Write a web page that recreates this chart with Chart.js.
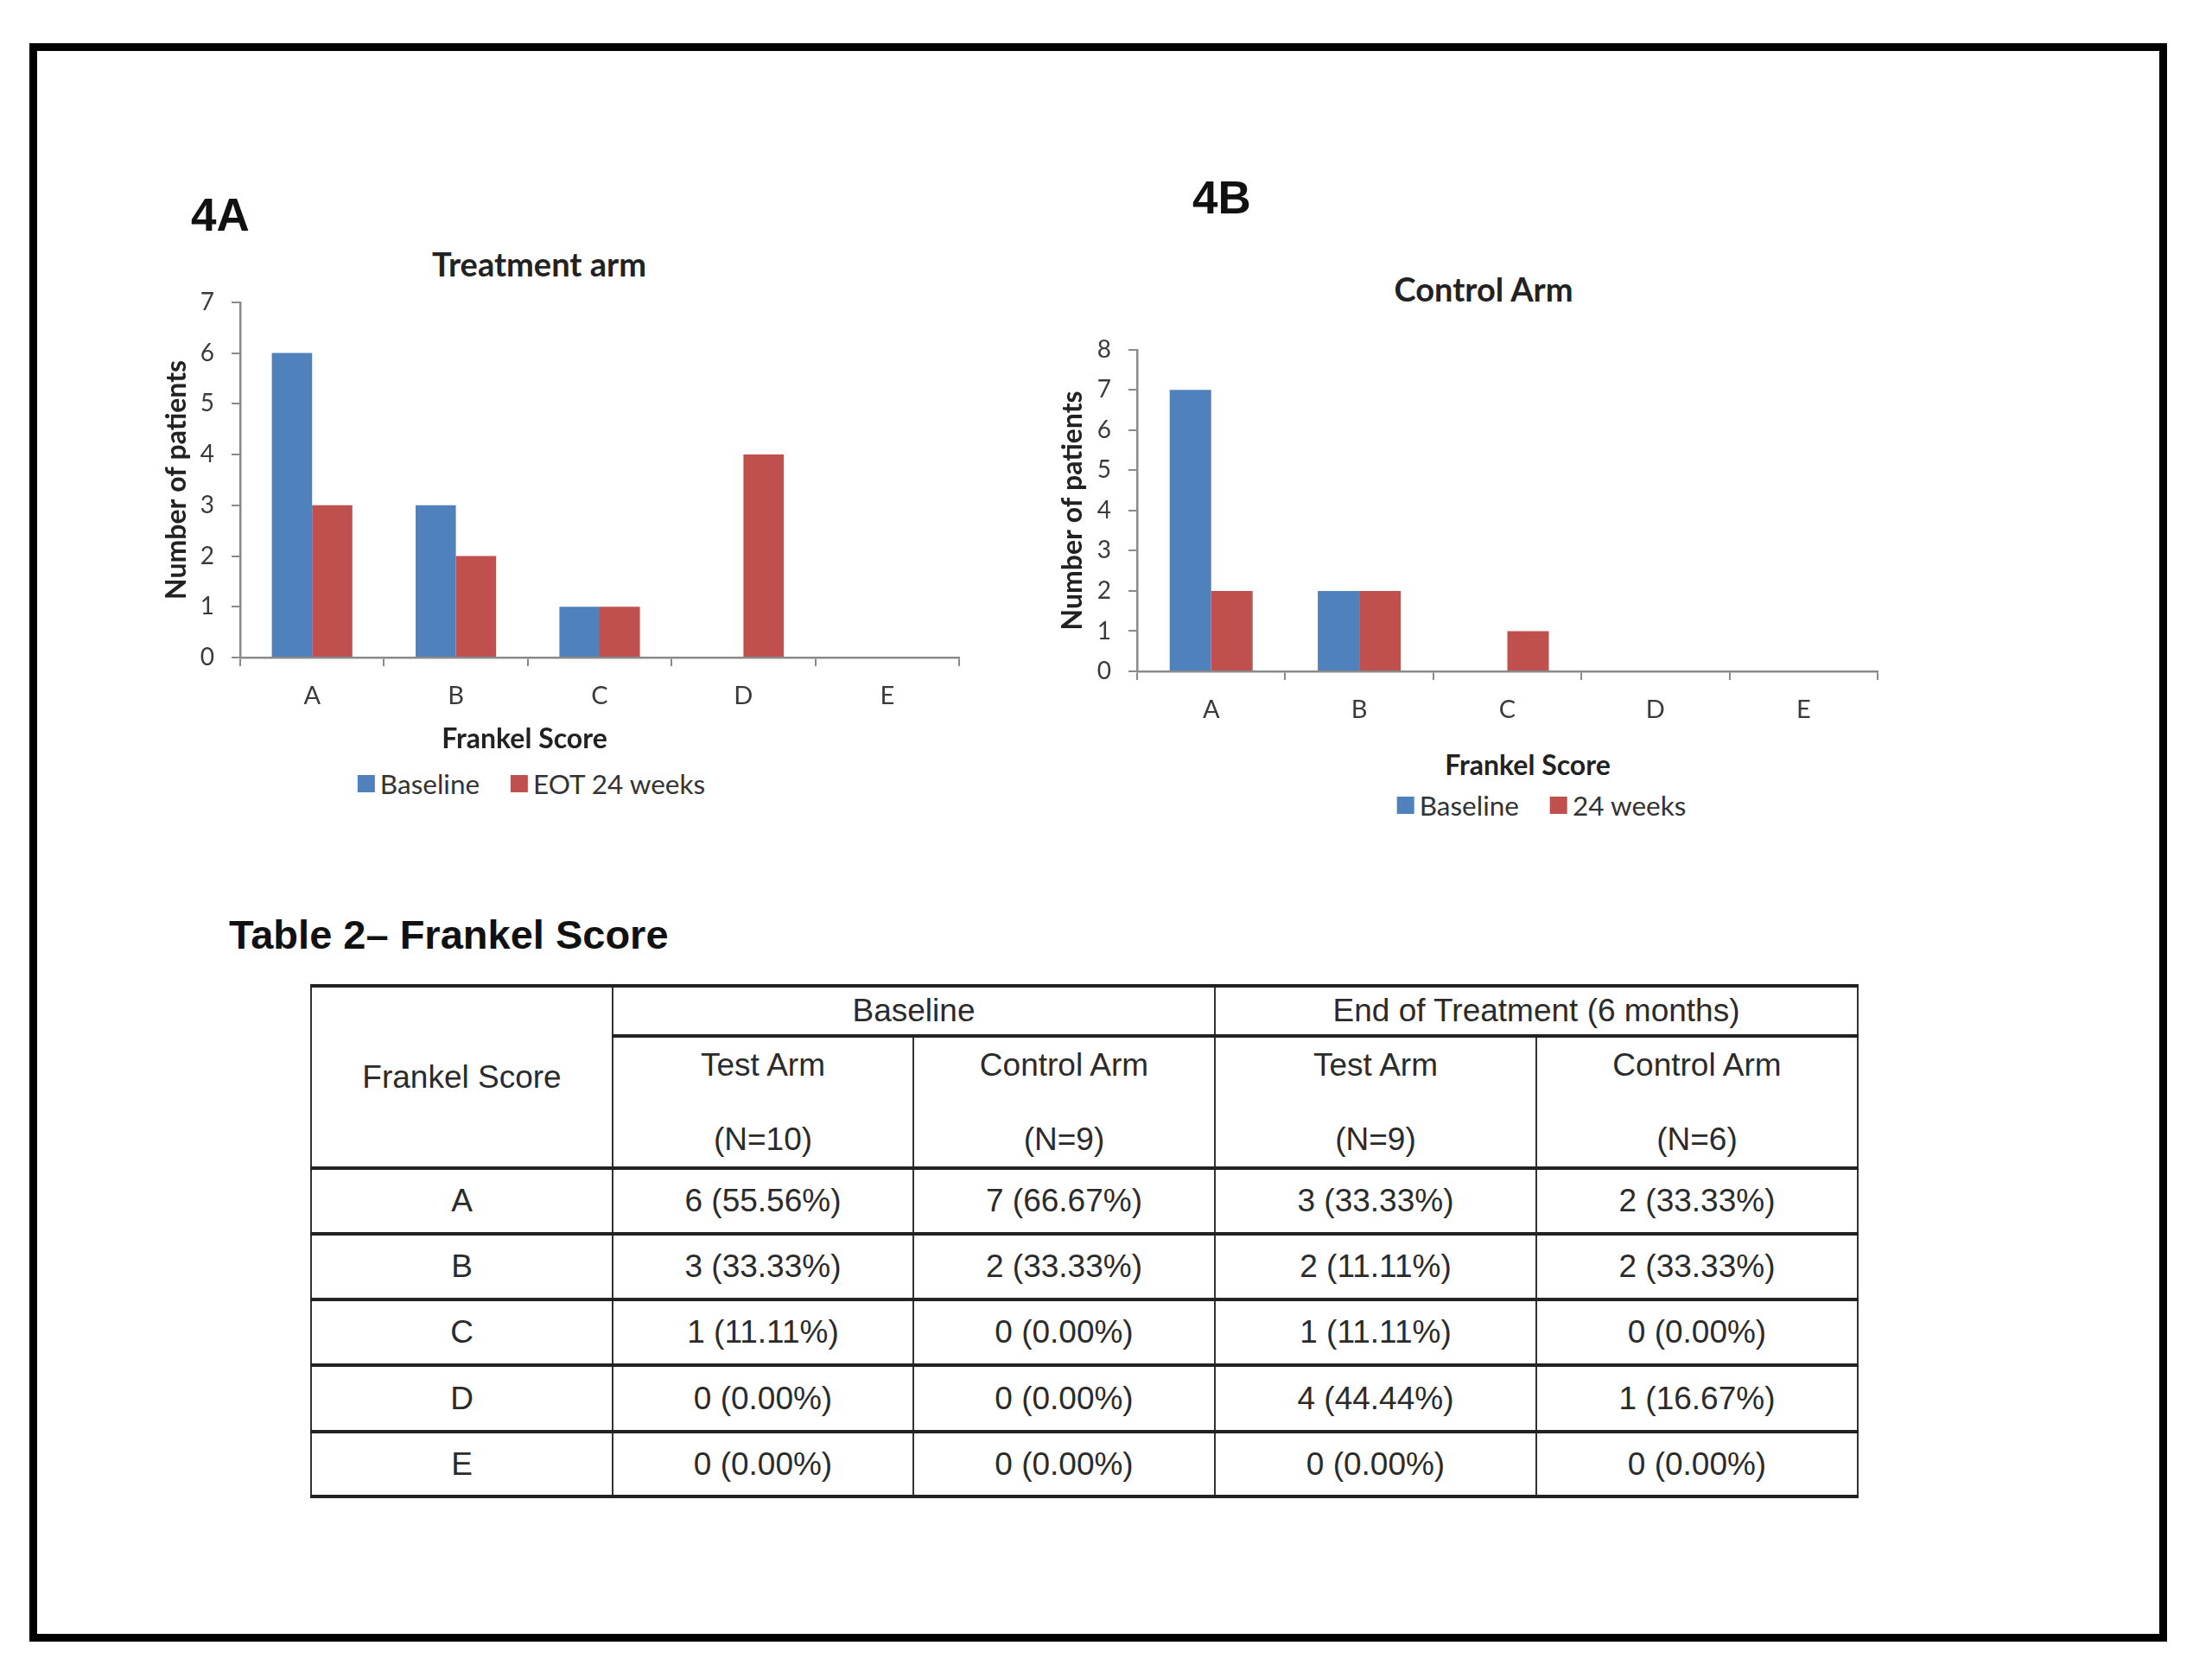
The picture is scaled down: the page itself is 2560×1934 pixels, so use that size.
<!DOCTYPE html>
<html>
<head>
<meta charset="utf-8">
<script src="https://cdn.jsdelivr.net/npm/chart.js@4.4.1/dist/chart.umd.min.js"></script>
<style>
    body { margin: 0; width: 2560px; height: 1934px; background: #fff; position: relative; overflow: hidden; font-family: 'Lato', sans-serif; }
    .frame { position: absolute; left: 34px; top: 50px; width: 2474px; height: 1850px; border: 9px solid #000; box-sizing: border-box; }
    .panel-label { position: absolute; font: bold 53px 'Liberation Sans', Arial, sans-serif; color: #111; transform: translateY(-50%); }
    .chart-box { position: absolute; }
    .txt { position: absolute; transform: translate(-50%, -50%); white-space: nowrap; color: #222; }
    .chart-title { font: bold 38px 'Lato', sans-serif; }
    .axis-title { font: bold 32px 'Lato', sans-serif; }
    .legend { position: absolute; display: flex; align-items: center; transform: translate(-50%, -50%); font: 31.5px 'Lato', sans-serif; color: #333; white-space: nowrap; }
    .legend span.item { display: flex; align-items: center; }
    .legend span.item + span.item { margin-left: 36px; }
    .legend i { display: inline-block; width: 20px; height: 20px; margin-right: 6px; }
    .table-title { position: absolute; left: 265px; top: 1081px; transform: translateY(-50%); font: bold 47px 'Liberation Sans', Arial, sans-serif; color: #111; }
    table.frankel { position: absolute; left: 359px; top: 1139px; border-collapse: collapse; font: 37px 'Liberation Sans', Arial, sans-serif; color: #2b2b2b; table-layout: fixed; }
    table.frankel td { border-left: 2px solid #333; border-right: 2px solid #333; border-top: 4px solid #222; border-bottom: 4px solid #222; text-align: center; vertical-align: middle; padding: 0; }
    table.frankel td.sub { line-height: 43px; }
</style>
</head>
<body>
<div class="frame"></div>

<div class="panel-label" style="left:221px; top:248px;">4A</div>
<div class="panel-label" style="left:1380px; top:228px;">4B</div>

<div class="txt chart-title" style="left:624px; top:305px;">Treatment arm</div>
<div class="chart-box" style="left:169px; top:313px; width:945px; height:522px;"><canvas id="chartA"></canvas></div>
<div class="txt axis-title" style="left:607px; top:853px;">Frankel Score</div>
<div class="legend" id="legendA" style="left:615px; top:907px;"></div>

<div class="txt chart-title" style="left:1717px; top:334px;">Control Arm</div>
<div class="chart-box" style="left:1206px; top:368px; width:971px; height:483px;"><canvas id="chartB"></canvas></div>
<div class="txt axis-title" style="left:1768px; top:884px;">Frankel Score</div>
<div class="legend" id="legendB" style="left:1784px; top:932px;"></div>

<div class="table-title">Table 2&#8211; Frankel Score</div>
<table class="frankel" id="frankelTable"></table>

<script>
// chart data
const scoreCategories = ['A', 'B', 'C', 'D', 'E'];
const treatmentBaseline = [6, 3, 1, 0, 0];
const treatmentEot24 = [3, 2, 1, 4, 0];
const controlBaseline = [7, 2, 0, 0, 0];
const control24Weeks = [2, 2, 1, 0, 0];
const treatmentLabels = ['Baseline', 'EOT 24 weeks'];
const controlLabels = ['Baseline', '24 weeks'];
const treatmentYMax = 7;
const controlYMax = 8;

// table data
const tableGroups = ['Baseline', 'End of Treatment (6 months)'];
const tableArms = ['Test Arm', 'Control Arm', 'Test Arm', 'Control Arm'];
const tableN = ['(N=10)', '(N=9)', '(N=9)', '(N=6)'];
const baselineTestCells = ['6 (55.56%)', '3 (33.33%)', '1 (11.11%)', '0 (0.00%)', '0 (0.00%)'];
const baselineControlCells = ['7 (66.67%)', '2 (33.33%)', '0 (0.00%)', '0 (0.00%)', '0 (0.00%)'];
const eotTestCells = ['3 (33.33%)', '2 (11.11%)', '1 (11.11%)', '4 (44.44%)', '0 (0.00%)'];
const eotControlCells = ['2 (33.33%)', '2 (33.33%)', '0 (0.00%)', '1 (16.67%)', '0 (0.00%)'];

const BLUE = '#4F81BD';
const RED = '#C0504D';
const AXIS_GREY = '#8a8a8a';

Chart.defaults.font.family = 'Lato';
Chart.defaults.color = '#3a3a3a';

function buildChart(canvasId, seriesA, seriesB, labels, yMax, yAxisWidth) {
    const ctx = document.getElementById(canvasId).getContext('2d');
    return new Chart(ctx, {
        type: 'bar',
        data: {
            labels: scoreCategories,
            datasets: [
                { label: labels[0], data: seriesA, backgroundColor: BLUE },
                { label: labels[1], data: seriesB, backgroundColor: RED }
            ]
        },
        options: {
            responsive: true,
            maintainAspectRatio: false,
            animation: false,
            devicePixelRatio: 1,
            layout: { padding: { top: 20, right: 4, bottom: 4, left: 0 } },
            datasets: { bar: { categoryPercentage: 0.56, barPercentage: 1.0 } },
            plugins: { legend: { display: false }, title: { display: false }, tooltip: { enabled: false } },
            scales: {
                x: {
                    grid: { offset: true, drawOnChartArea: false, tickLength: 10, color: AXIS_GREY, lineWidth: 2 },
                    border: { color: AXIS_GREY, width: 2.5 },
                    ticks: { font: { size: 29 }, padding: 17, color: '#3a3a3a' },
                    afterFit: scale => { scale.height = 70; }
                },
                y: {
                    min: 0,
                    max: yMax,
                    grid: { drawOnChartArea: false, tickLength: 10, color: AXIS_GREY, lineWidth: 2 },
                    border: { color: AXIS_GREY, width: 2.5 },
                    ticks: { stepSize: 1, font: { size: 28 }, padding: 20, color: '#3a3a3a' },
                    title: {
                        display: true,
                        text: 'Number of patients',
                        font: { size: 32, weight: 'bold' },
                        color: '#222',
                        padding: { top: 16, bottom: 0 }
                    },
                    afterFit: scale => { scale.width = yAxisWidth; }
                }
            }
        }
    });
}

function buildLegend(elId, chart) {
    const el = document.getElementById(elId);
    chart.data.datasets.forEach(ds => {
        const item = document.createElement('span');
        item.className = 'item';
        const sw = document.createElement('i');
        sw.style.background = ds.backgroundColor;
        item.appendChild(sw);
        item.appendChild(document.createTextNode(ds.label));
        el.appendChild(item);
    });
}

const chartA = buildChart('chartA', treatmentBaseline, treatmentEot24, treatmentLabels, treatmentYMax, 109);
const chartB = buildChart('chartB', controlBaseline, control24Weeks, controlLabels, controlYMax, 110);
buildLegend('legendA', chartA);
buildLegend('legendB', chartB);

// table
function buildTable() {
    const table = document.getElementById('frankelTable');
    const colWidths = [349, 348, 349, 372, 372];
    const rowHeights = [58, 153, 76, 76, 76, 77, 75];
    const colgroup = document.createElement('colgroup');
    colWidths.forEach(w => {
        const col = document.createElement('col');
        col.style.width = w + 'px';
        colgroup.appendChild(col);
    });
    table.appendChild(colgroup);

    const head1 = table.insertRow();
    head1.style.height = rowHeights[0] + 'px';
    const scoreHead = head1.insertCell();
    scoreHead.rowSpan = 2;
    scoreHead.textContent = 'Frankel Score';
    tableGroups.forEach(g => {
        const c = head1.insertCell();
        c.colSpan = 2;
        c.textContent = g;
    });

    const head2 = table.insertRow();
    head2.style.height = rowHeights[1] + 'px';
    tableArms.forEach((arm, i) => {
        const c = head2.insertCell();
        c.className = 'sub';
        c.innerHTML = arm + '<br><br>' + tableN[i];
    });

    const columns = [baselineTestCells, baselineControlCells, eotTestCells, eotControlCells];
    scoreCategories.forEach((cat, r) => {
        const row = table.insertRow();
        row.style.height = rowHeights[r + 2] + 'px';
        row.insertCell().textContent = cat;
        columns.forEach(col => {
            row.insertCell().textContent = col[r];
        });
    });
}
buildTable();
</script>
</body>
</html>
